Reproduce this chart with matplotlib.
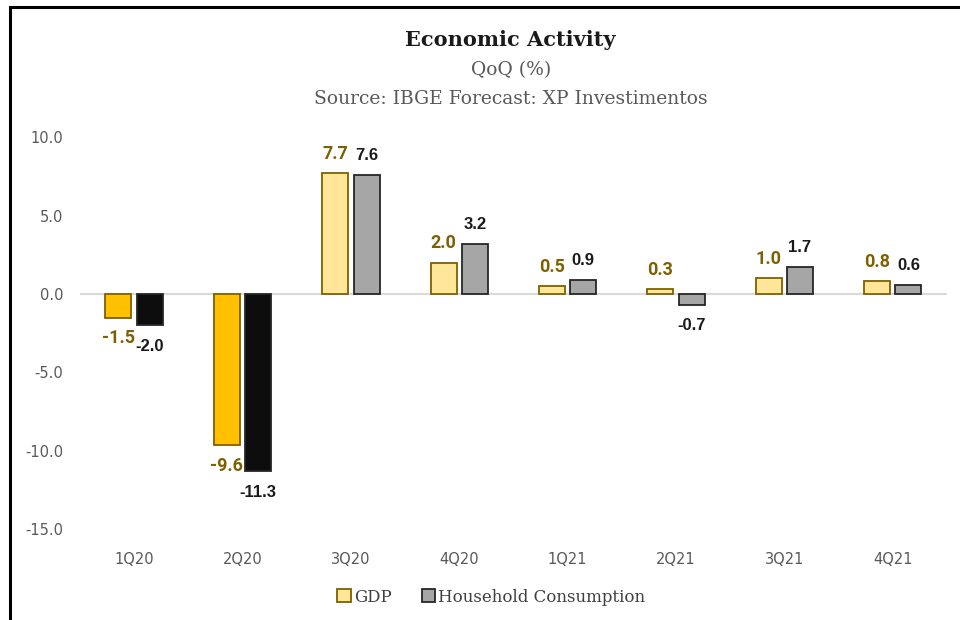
import matplotlib
matplotlib.use("Agg")
import matplotlib.pyplot as plt
from matplotlib.lines import Line2D
from matplotlib.patches import Patch
import numpy as np

plt.rcParams['axes.unicode_minus'] = False

# data
quarters = ['1Q20', '2Q20', '3Q20', '4Q20', '1Q21', '2Q21', '3Q21', '4Q21']
gdp = [-1.5, -9.6, 7.7, 2.0, 0.5, 0.3, 1.0, 0.8]
household = [-2.0, -11.3, 7.6, 3.2, 0.9, -0.7, 1.7, 0.6]
is_actual = [True, True, False, False, False, False, False, False]
y_ticks = [10.0, 5.0, 0.0, -5.0, -10.0, -15.0]

gdp_actual, gdp_fcst, gdp_edge = '#FFC000', '#FFE699', '#7F6000'
hc_actual, hc_fcst, hc_edge = '#0D0D0D', '#A6A6A6', '#262626'

fig = plt.figure(figsize=(9.6, 6.2), dpi=100)
ax = fig.add_axes([0.0833, 0.146, 0.903, 0.633])

x = np.arange(len(quarters))
w = 0.24
off = 0.145

gdp_colors = [gdp_actual if a else gdp_fcst for a in is_actual]
hc_colors = [hc_actual if a else hc_fcst for a in is_actual]
ax.bar(x - off, gdp, w, color=gdp_colors, edgecolor=gdp_edge, linewidth=1.3, zorder=3)
ax.bar(x + off, household, w, color=hc_colors, edgecolor=hc_edge, linewidth=1.3, zorder=3)

ax.axhline(0, color='#D9D9D9', lw=1.5, zorder=2)

def label(xs, vals, color, size, fam):
    for xi, v in zip(xs, vals):
        dy = 14 if v >= 0 else -15
        ax.annotate(f'{v:.1f}', (xi, v), xytext=(0, dy), textcoords='offset points',
                    ha='center', va='center', color=color, fontsize=size,
                    fontweight='bold', family=fam, zorder=4)

label(x - off, gdp, gdp_edge, 13, 'Roboto')
label(x + off, household, '#1A1A1A', 12, 'Liberation Sans')

ax.set_xlim(-0.5, len(quarters) - 0.5)
ax.set_ylim(-15, 10)
ax.set_yticks(y_ticks)
ax.set_yticklabels([f'{t:.1f}' for t in y_ticks])
ax.set_xticks(x)
ax.set_xticklabels(quarters)
ax.tick_params(axis='y', length=0, pad=12, labelsize=10.5, labelcolor='#595959')
ax.tick_params(axis='x', length=0, pad=16, labelsize=10.5, labelcolor='#595959')
for lab in ax.get_xticklabels() + ax.get_yticklabels():
    lab.set_family('DejaVu Sans')
for s in ax.spines.values():
    s.set_visible(False)

cx = 0.532
fig.text(cx, 0.935, 'Economic Activity', ha='center', va='center',
         family='DejaVu Serif', fontweight='bold', fontsize=15, color='#1A1A1A')
fig.text(cx, 0.887, 'QoQ (%)', ha='center', va='center',
         family='DejaVu Serif', fontsize=13.5, color='#595959')
fig.text(cx, 0.84, 'Source: IBGE Forecast: XP Investimentos', ha='center', va='center',
         family='DejaVu Serif', fontsize=13.5, color='#595959')

handles = [Patch(facecolor=gdp_fcst, edgecolor=gdp_edge, linewidth=1.3, label='GDP'),
           Patch(facecolor=hc_fcst, edgecolor=hc_edge, linewidth=1.3, label='Household Consumption')]
fig.legend(handles=handles, loc='center', bbox_to_anchor=(0.512, 0.037), ncol=2, frameon=False,
           handlelength=0.8, handleheight=0.8, handletextpad=0.2, columnspacing=1.8,
           prop={'family': 'DejaVu Serif', 'size': 12}, labelcolor='#404040')

# outer frame (left and top edges)
fig.add_artist(Line2D([0.0104, 0.0104], [0.0, 0.989], transform=fig.transFigure, color='#000000', lw=2.2))
fig.add_artist(Line2D([0.0104, 1.0], [0.989, 0.989], transform=fig.transFigure, color='#000000', lw=2.2))

fig.savefig('out.png', dpi=100)
